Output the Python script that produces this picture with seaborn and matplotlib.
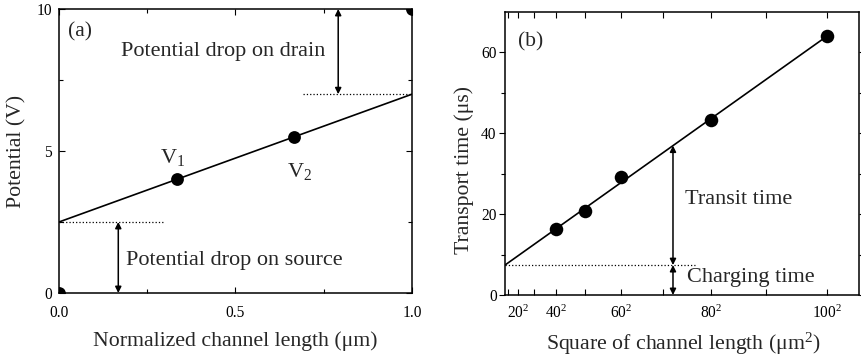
import numpy as np
import pandas as pd
import matplotlib
matplotlib.use("Agg")
import matplotlib.pyplot as plt
import seaborn as sns

# ---- panel (a): potential profile along the channel ----
pos_a = [0.0, 1/3, 2/3, 1.0]
pot_a = [0.0, 4.0, 5.5, 10.0]
line_a_x = [0.0, 1.0]
line_a_y = [2.5, 7.0]
point_labels_a = ["V$_1$", "V$_2$"]

# ---- panel (b): transport time vs. square of channel length ----
length_b = [40, 50, 60, 80, 100]
time_b = [16.4, 20.8, 29.2, 43.3, 64.0]
fit_b_x = [0, 10000]
fit_b_y = [7.4, 64.0]
charging_time = 7.4
tick_lengths_b = [10, 20, 30, 40, 50, 60, 70, 80, 90, 100]
labeled_lengths_b = [20, 40, 60, 80, 100]

sns.set_theme(style="ticks")
plt.rcParams["font.family"] = ["Liberation Serif", "DejaVu Serif"]
plt.rcParams["mathtext.fontset"] = "custom"
plt.rcParams["mathtext.rm"] = "Liberation Serif"
plt.rcParams["mathtext.it"] = "Liberation Serif:italic"
plt.rcParams["axes.linewidth"] = 1.1
plt.rcParams["axes.edgecolor"] = "black"

fig = plt.figure(figsize=(8.61, 3.57), dpi=100)
ax1 = fig.add_axes([0.0685, 0.1793, 0.4100, 0.7955])
ax2 = fig.add_axes([0.5865, 0.1737, 0.4112, 0.7927])

TICK_FS = 11.2
LABEL_FS = 15.7
ANN_FS = 16
PANEL_FS = 15.5

df_a = pd.DataFrame({"x": pos_a, "V": pot_a})
df_line_a = pd.DataFrame({"x": line_a_x, "V": line_a_y})
sns.lineplot(data=df_line_a, x="x", y="V", ax=ax1, color="black", lw=1.2)
sns.scatterplot(data=df_a, x="x", y="V", ax=ax1, color="black", s=85,
                edgecolor="black", linewidth=0, zorder=5, clip_on=True)

ax1.set_xlim(0, 1)
ax1.set_ylim(0, 10)
ax1.set_xticks([0.0, 0.5, 1.0])
ax1.set_xticklabels(["0.0", "0.5", "1.0"])
ax1.set_xticks([0.25, 0.75], minor=True)
ax1.set_yticks([0, 5, 10])
ax1.set_yticklabels(["0", "5", "10"])
ax1.set_yticks([2.5, 7.5], minor=True)
ax1.tick_params(which="both", direction="in", top=True, right=True,
                labelsize=TICK_FS, color="black", labelcolor="black")
ax1.tick_params(which="major", length=4, width=0.8)
ax1.tick_params(which="minor", length=3, width=0.8)
ax1.tick_params(axis="x", pad=9)
ax1.tick_params(axis="y", pad=5)
ax1.set_xlabel("Normalized channel length (μm)", fontsize=LABEL_FS)
ax1.set_ylabel("Potential (V)", fontsize=LABEL_FS)
ax1.xaxis.set_label_coords(0.5, -0.135)
ax1.yaxis.set_label_coords(-0.092, 0.5)

# dotted reference levels and voltage-drop arrows
ax1.plot([0, 0.30], [line_a_y[0]] * 2, ls=":", color="black", lw=0.9)
ax1.plot([0.69, 1.0], [line_a_y[1]] * 2, ls=":", color="black", lw=0.9)
arrow = dict(arrowstyle="<|-|>", color="black", lw=1.1, mutation_scale=9,
             shrinkA=0, shrinkB=0)
ax1.annotate("", xy=(0.168, 0), xytext=(0.168, line_a_y[0]), arrowprops=arrow)
ax1.annotate("", xy=(0.791, 10), xytext=(0.791, line_a_y[1]), arrowprops=arrow)
ax1.text(0.175, 8.5, "Potential drop on drain", fontsize=ANN_FS, va="center")
ax1.text(0.19, 1.16, "Potential drop on source", fontsize=ANN_FS, va="center")
ax1.text(0.285, 4.57, point_labels_a[0], fontsize=ANN_FS, va="baseline")
ax1.text(0.645, 4.1, point_labels_a[1], fontsize=ANN_FS, va="baseline")
ax1.text(0.026, 9.2, "(a)", fontsize=PANEL_FS, va="center")

# ---- panel (b) ----
df_b = pd.DataFrame({"L2": [v ** 2 for v in length_b], "t": time_b})
df_fit = pd.DataFrame({"L2": fit_b_x, "t": fit_b_y})
sns.lineplot(data=df_fit, x="L2", y="t", ax=ax2, color="black", lw=1.2)
sns.scatterplot(data=df_b, x="L2", y="t", ax=ax2, color="black", s=95,
                edgecolor="black", linewidth=0, zorder=5)

ax2.set_xlim(0, 11000)
ax2.set_ylim(0, 70)
ax2.set_xticks([v ** 2 for v in tick_lengths_b])
ax2.set_xticklabels([f"{v}$^{{2}}$" if v in labeled_lengths_b else "" for v in tick_lengths_b])
ax2.set_yticks([0, 20, 40, 60])
ax2.set_yticks([10, 30, 50], minor=True)
ax2.tick_params(which="both", direction="in", top=True, right=True,
                labelsize=TICK_FS, color="black", labelcolor="black")
ax2.tick_params(axis="y", which="both", left=True, direction="out")
ax2.tick_params(which="major", length=4, width=0.8)
ax2.tick_params(which="minor", length=3, width=0.8)
ax2.tick_params(axis="x", pad=7)
ax2.tick_params(axis="y", pad=2)
ax2.set_xlabel("Square of channel length (μm$^2$)", fontsize=LABEL_FS)
ax2.set_ylabel("Transport time (μs)", fontsize=LABEL_FS)
ax2.xaxis.set_label_coords(0.503, -0.128)
ax2.yaxis.set_label_coords(-0.088, 0.44)

slope = (fit_b_y[1] - fit_b_y[0]) / (fit_b_x[1] - fit_b_x[0])
x_arrow = 5220
ax2.plot([0, 5900], [charging_time] * 2, ls=":", color="black", lw=0.9)
ax2.annotate("", xy=(x_arrow, charging_time), xytext=(x_arrow, charging_time + slope * x_arrow),
             arrowprops=arrow)
ax2.annotate("", xy=(x_arrow, 0), xytext=(x_arrow, charging_time), arrowprops=arrow)
ax2.text(5590, 23.5, "Transit time", fontsize=ANN_FS, va="center")
ax2.text(5640, 4.3, "Charging time", fontsize=ANN_FS, va="center")
ax2.text(400, 62.6, "(b)", fontsize=PANEL_FS, va="center")

for ax in (ax1, ax2):
    for sp in ax.spines.values():
        sp.set_visible(True)
        sp.set_color("black")

fig.savefig("out.png", dpi=100)
